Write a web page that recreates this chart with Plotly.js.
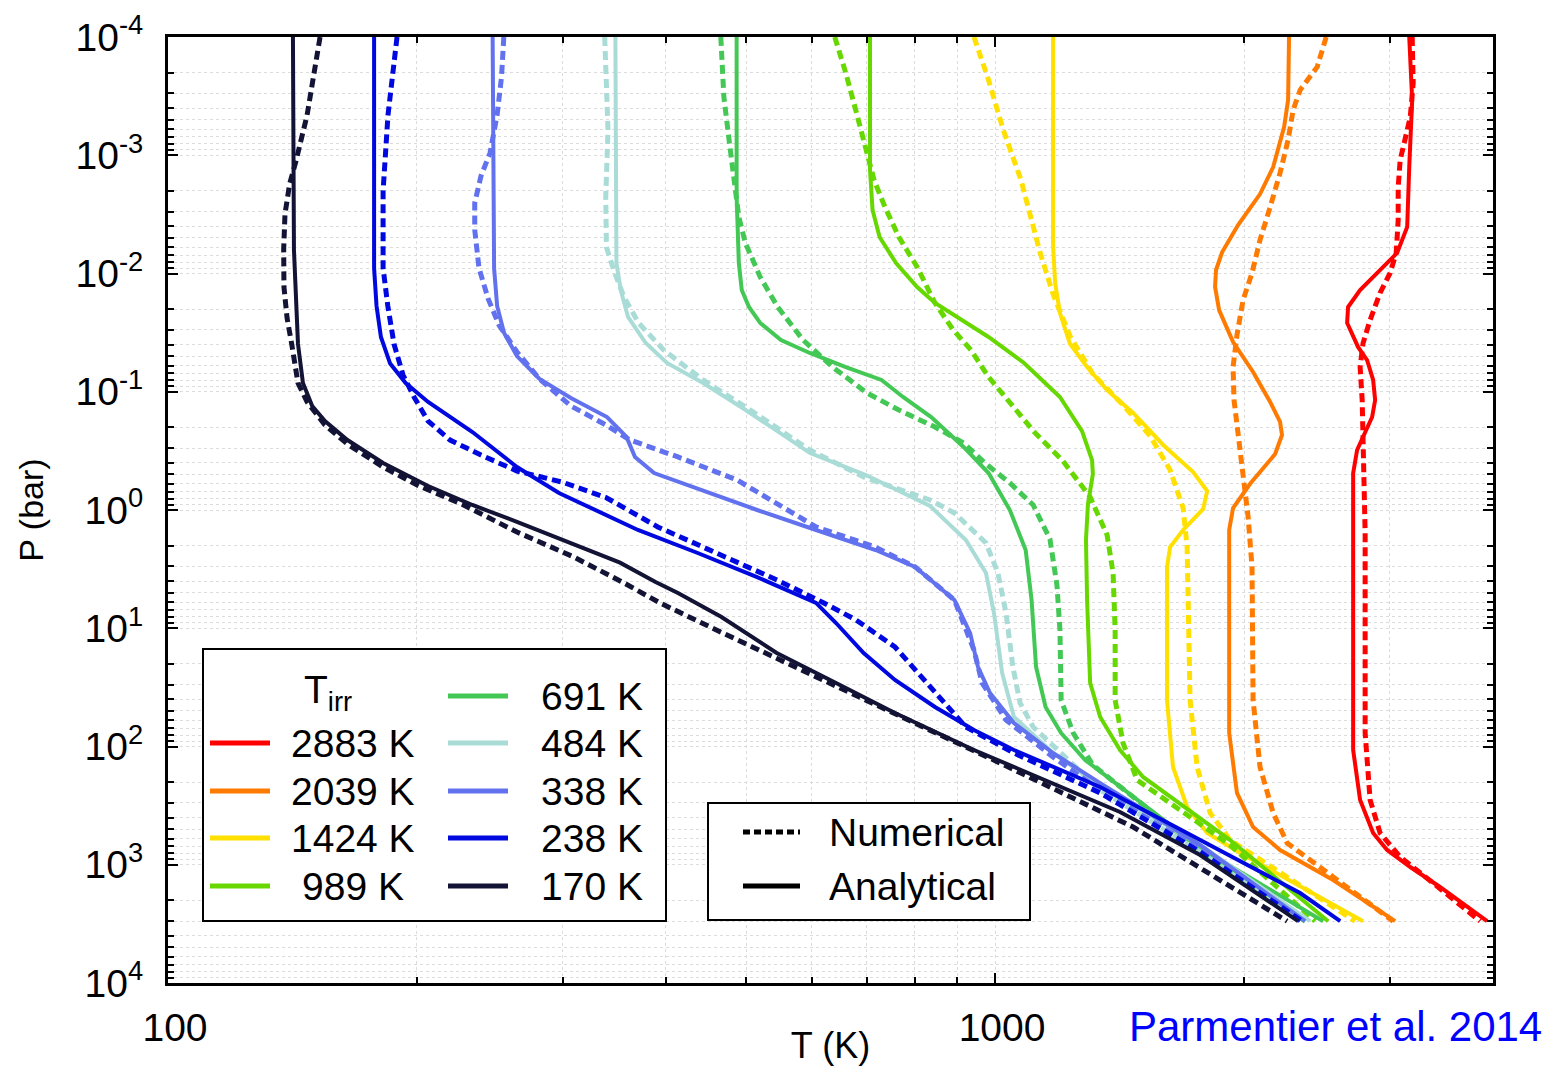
<!DOCTYPE html>
<html><head><meta charset="utf-8">
<script src="https://cdn.plot.ly/plotly-3.0.1.min.js"></script>
<style>html,body{margin:0;padding:0;background:#fff}#chart{width:1551px;height:1066px}</style>
</head><body><div id="chart"></div>
<script>
// Irradiation temperatures (legend)
const tirrLabels = ['2883 K','2039 K','1424 K','989 K','691 K','484 K','338 K','238 K','170 K'];
const tirrColors = ['#ff0000','#ff7a00','#ffe000','#66d800','#44c855','#a9dcd6','#6272ee','#0008e0','#131335'];

// ---- 2883 K ----
const P_2883_ana = [1e-4,3.41e-4,1.26e-3,4.04e-3,6.71e-3,8.81e-3,0.0138,0.0192,0.0262,0.0418,0.0539,0.0795,0.1175,0.1635,0.241,0.311,0.487,107,283,539,750,1045,1542,3000];
const T_2883_ana = [3168,3194,3168,3150,3063,2946,2763,2672,2665,2747,2817,2865,2881,2857,2786,2740,2710,2710,2763,2865,2979,3177,3451,3935];
const P_2883_num = [1e-4,2.45e-4,4.75e-4,7.43e-4,1.1e-3,1.86e-3,3.53e-3,6.71e-3,9.9e-3,0.0146,0.0247,0.0387,0.0618,0.1175,0.433,1.565,76.9,283,539,860,1426,3000];
const T_2883_num = [3194,3203,3177,3133,3089,3072,3072,3055,3004,2921,2841,2786,2763,2779,2794,2802,2802,2841,2921,3089,3385,3859];
// ---- 2039 K ----
const P_2039_ana = [1e-4,3.41e-4,5.77e-4,1.26e-3,2.13e-3,3.89e-3,6.58e-3,9.34e-3,0.013,0.0204,0.038,0.068,0.122,0.180,0.232,0.336,0.603,0.962,1.476,76.9,247,480,750,1345,3000];
const T_2039_ana = [2267,2261,2236,2169,2091,1967,1882,1850,1845,1866,1940,2051,2151,2211,2223,2181,2033,1940,1919,1919,1961,2051,2211,2563,3046];
const P_2039_num = [1e-4,1.79e-4,2.81e-4,4.14e-4,7.43e-4,1.41e-3,2.74e-3,5.21e-3,9.9e-3,0.0167,0.0331,0.0618,0.1174,0.223,0.487,1.146,3.03,40.5,149,365,655,1270,3000];
const T_2039_num = [2514,2452,2338,2293,2261,2211,2151,2091,2045,1995,1961,1940,1945,1967,1995,2023,2045,2051,2091,2169,2255,2563,3029];
// ---- 1424 K ----
const P_1424_ana = [1e-4,5.63e-3,0.012,0.0216,0.0394,0.0618,0.0966,0.151,0.282,0.477,0.691,0.98,1.476,2.06,3.03,40.5,149,325,539,795,3000];
const T_1424_ana = [1175,1175,1182,1198,1232,1292,1366,1469,1597,1736,1805,1785,1688,1628,1614,1614,1641,1707,1805,1979,2786];
const P_1424_num = [1e-4,2.31e-4,6.1e-4,1.62e-3,6.58e-3,0.0149,0.0338,0.0708,0.1294,0.2366,0.459,0.962,2.06,10.35,40.5,149,365,618,3000];
const T_1424_num = [943,982,1023,1075,1133,1175,1232,1313,1428,1540,1628,1688,1707,1712,1721,1755,1820,1924,2725];
// ---- 989 K ----
const P_989_ana = [1e-4,1.33e-3,2.9e-3,4.91e-3,8.15e-3,0.013,0.01776,0.0344,0.0571,0.1107,0.215,0.378,0.496,0.90,1.794,5.77,29.0,56.3,107,181,618,3000];
const T_989_ana = [706,706,711,725,759,805,846,982,1084,1198,1274,1310,1313,1295,1288,1292,1303,1340,1416,1510,1924,2528];
const P_989_num = [1e-4,2.02e-4,4.4e-4,9.58e-4,1.62e-3,2.74e-3,4.91e-3,8.81e-3,0.01776,0.03,0.0443,0.075,0.1245,0.223,0.385,0.776,1.627,3.41,10.35,40.5,93.4,192,681,3000];
const T_989_num = [640,660,680,700,714,736,765,805,846,890,935,982,1042,1118,1208,1303,1366,1389,1397,1397,1428,1485,1924,2438];
// ---- 691 K ----
const P_691_ana = [1e-4,2.25e-3,8.15e-3,0.0138,0.0192,0.0262,0.0365,0.047,0.0618,0.0795,0.1107,0.1635,0.293,0.487,1.0,2.18,5.77,21.3,46.3,76.9,130,721,3000];
const T_691_ana = [487,487,490,494,504,520,551,597,660,729,774,837,916,982,1042,1089,1107,1121,1151,1202,1285,1770,2493];
const P_691_num = [1e-4,3.22e-4,8.5e-4,1.86e-3,3.33e-3,5.52e-3,0.0107,0.0192,0.0365,0.0618,0.1024,0.1427,0.1986,0.271,0.40,0.591,0.907,1.76,4.31,10.35,40.5,76.9,143.6,750,3000];
const T_691_num = [466,470,478,485,490,499,520,546,586,636,700,765,846,916,972,1042,1112,1165,1188,1198,1202,1243,1313,1770,2371];
// ---- 484 K ----
const P_484_ana = [1e-4,8.15e-3,0.01378,0.0233,0.0387,0.0571,0.0843,0.1427,0.33,0.506,0.925,1.794,3.41,7.43,23.9,56.2,113.5,216,681,3000];
const T_484_ana = [347.5,348.5,352.7,359.9,378.1,401.2,443.6,499.4,597.4,698,834.5,922,975,997,1020,1054,1175,1340,1770,2404];
const P_484_num = [1e-4,6.1e-4,2.25e-3,5.97e-3,9.34e-3,0.0158,0.0262,0.0443,0.0794,0.1346,0.311,0.536,0.823,1.06,1.90,3.41,7.43,21.3,42.8,68.4,233,780,3000];
const T_484_num = [337.3,340.4,338.3,338.9,345.8,355.9,370.7,397.4,443.6,499.4,597.4,698,834.5,893,975,1008,1031,1051,1072,1112,1340,1770,2338];
// ---- 338 K ----
const P_338_ana = [1e-4,9.0e-3,0.0188,0.0318,0.0499,0.078,0.113,0.1635,0.241,0.356,0.487,0.678,1.0,1.476,2.18,3.03,5.77,11.0,21.3,35.3,63.3,113.5,204,681,3000];
const T_338_ana = [246.9,247.9,250,254.9,264.2,281.3,307,339.5,358.4,367,387,440,515.6,607.5,717,800.5,893,933,953.7,986,1054,1175,1340,1770,2371];
const P_338_num = [1e-4,2.16e-4,4.57e-4,9.58e-4,1.5e-3,2.53e-3,4.28e-3,9.0e-3,0.0163,0.0273,0.0461,0.078,0.132,0.191,0.256,0.356,0.557,1.39,2.06,3.03,5.77,15.3,29.0,59.7,122.8,233,750,3000];
const T_338_num = [254.7,253.1,250,245.1,239,234.9,234.9,237.7,243.8,251.3,264.2,281.3,307,338.5,361.9,413.6,487.5,607.5,717,800.5,893,943,964.5,1031,1175,1340,1770,2338];
// ---- 238 K ----
const P_238_ana = [1e-4,9.0e-3,0.0188,0.0344,0.0578,0.0843,0.122,0.219,0.433,0.718,1.476,2.31,3.69,6.11,9.03,16.2,27.4,46.3,72.5,107,220,618,1734,3000];
const T_238_ana = [177.5,177.5,178.7,180.9,185.6,193.8,206.3,233.4,264.2,297,370,437,515.6,607.5,642.3,693.6,756.8,846,943,1054,1340,1770,2338,2614];
const P_238_num = [1e-4,4.57e-4,2.0e-3,9.0e-3,0.0188,0.0394,0.0722,0.113,0.177,0.256,0.343,0.468,0.58,0.784,1.39,2.31,3.91,6.11,8.51,14.4,35.3,68.4,113.5,247,780,3000];
const T_238_num = [189.2,184.5,182,182,184.4,187.6,192.4,198.7,206.3,219.3,239,264.2,299.5,338.5,391,461,545,621,679,756.8,846,922,1054,1340,1770,2351];
// ---- 170 K ----
const P_170_ana = [1e-4,6.3e-3,0.0394,0.0843,0.132,0.177,0.256,0.40,0.627,0.907,1.26,1.90,2.79,4.06,5.04,7.99,16.2,29.0,52.1,107,204,358,827,3000];
const T_170_ana = [141.6,142,143.6,145.6,149.4,154.8,164.8,182,206.3,233.4,264.2,307,352,388.6,413.6,466.4,544.5,642.3,756.8,943,1175,1416,1770,2325];
const P_170_num = [1e-4,4.57e-4,1.12e-3,1.75e-3,3.14e-3,6.2e-3,0.013,0.0238,0.0394,0.0843,0.122,0.191,0.277,0.433,0.627,0.907,1.535,2.50,4.14,6.11,10.7,25.8,52.1,138,480,3000];
const T_170_num = [152.7,147.3,142.8,140.3,138.5,138.0,138.1,139.3,141.1,143.6,147.3,154.8,164.8,182,201.2,227.7,264.2,309.6,355.9,393.5,465,607.5,756.8,1014,1469,2255];

// Axis ticks
const xMajor = [100,1000];
const xMajorText = ['100','1000'];
const xMinor = [200,300,400,500,600,700,800,900,2000,3000];
const yMajor = [1e-4,1e-3,1e-2,1e-1,1e0,1e1,1e2,1e3,1e4];
const yMajorText = ['10<sup>-4</sup>','10<sup>-3</sup>','10<sup>-2</sup>','10<sup>-1</sup>','10<sup>0</sup>','10<sup>1</sup>','10<sup>2</sup>','10<sup>3</sup>','10<sup>4</sup>'];
const yMinorMant = [2,3,4,5,6,7,8,9];

const series = [
  [T_2883_num,P_2883_num,T_2883_ana,P_2883_ana],
  [T_2039_num,P_2039_num,T_2039_ana,P_2039_ana],
  [T_1424_num,P_1424_num,T_1424_ana,P_1424_ana],
  [T_989_num,P_989_num,T_989_ana,P_989_ana],
  [T_691_num,P_691_num,T_691_ana,P_691_ana],
  [T_484_num,P_484_num,T_484_ana,P_484_ana],
  [T_338_num,P_338_num,T_338_ana,P_338_ana],
  [T_238_num,P_238_num,T_238_ana,P_238_ana],
  [T_170_num,P_170_num,T_170_ana,P_170_ana]
];

const traces = [];
series.forEach((s,i)=>{
  traces.push({x:s[0],y:s[1],mode:'lines',name:tirrLabels[i]+' numerical',showlegend:false,
    line:{color:tirrColors[i],width:5,dash:'9px,5px'},hoverinfo:'skip'});
  traces.push({x:s[2],y:s[3],mode:'lines',name:tirrLabels[i]+' analytical',showlegend:false,
    line:{color:tirrColors[i],width:4},hoverinfo:'skip'});
});

const yMinor = [];
for (let e=-4;e<4;e++) yMinorMant.forEach(m=>yMinor.push(m*Math.pow(10,e)));

// pixel -> paper helpers (plot area 168..1493 x 37..983)
const L=168,R=1493,T0=37,B=983;
const px = x => (x-L)/(R-L);
const py = y => (B-y)/(B-T0);

const FONT = 'Liberation Sans, Arial, Helvetica, sans-serif';
const FS = 39;
const shapes = [];
const ann = [];
// legend 1 box
shapes.push({type:'rect',xref:'paper',yref:'paper',x0:px(203),x1:px(666),y0:py(649),y1:py(921),line:{color:'#000',width:2},fillcolor:'#fff',layer:'above'});
const rowsY = [743,791,838,886];
const col1Right = [417,417,417,406];
const col1 = [0,1,2,3], col2 = [4,5,6,7,8];
const col2Y = [696,743,791,838,886];
col1.forEach((k,j)=>{
  shapes.push({type:'line',xref:'paper',yref:'paper',x0:px(210),x1:px(270),y0:py(rowsY[j]),y1:py(rowsY[j]),line:{color:tirrColors[k],width:5},layer:'above'});
  ann.push({xref:'paper',yref:'paper',x:px(col1Right[j]),y:py(rowsY[j]),xanchor:'right',yanchor:'middle',text:tirrLabels[k],showarrow:false,font:{family:FONT,size:FS,color:'#000'}});
});
col2.forEach((k,j)=>{
  shapes.push({type:'line',xref:'paper',yref:'paper',x0:px(448),x1:px(508),y0:py(col2Y[j]),y1:py(col2Y[j]),line:{color:tirrColors[k],width:5},layer:'above'});
  ann.push({xref:'paper',yref:'paper',x:px(645),y:py(col2Y[j]),xanchor:'right',yanchor:'middle',text:tirrLabels[k],showarrow:false,font:{family:FONT,size:FS,color:'#000'}});
});
ann.push({xref:'paper',yref:'paper',x:px(328),y:py(692),xanchor:'center',yanchor:'middle',text:'T<sub>irr</sub>',showarrow:false,font:{family:FONT,size:FS,color:'#000'}});
// legend 2 box
shapes.push({type:'rect',xref:'paper',yref:'paper',x0:px(708),x1:px(1030),y0:py(803),y1:py(920),line:{color:'#000',width:2},fillcolor:'#fff',layer:'above'});
shapes.push({type:'line',xref:'paper',yref:'paper',x0:px(743),x1:px(800),y0:py(832),y1:py(832),line:{color:'#000',width:5,dash:'7px,4px'},layer:'above'});
shapes.push({type:'line',xref:'paper',yref:'paper',x0:px(743),x1:px(800),y0:py(886),y1:py(886),line:{color:'#000',width:5},layer:'above'});
ann.push({xref:'paper',yref:'paper',x:px(827),y:py(832),xanchor:'left',yanchor:'middle',text:'Numerical',showarrow:false,font:{family:FONT,size:FS,color:'#000'}});
ann.push({xref:'paper',yref:'paper',x:px(827),y:py(886),xanchor:'left',yanchor:'middle',text:'Analytical',showarrow:false,font:{family:FONT,size:FS,color:'#000'}});
// credit
ann.push({xref:'paper',yref:'paper',x:px(1544),y:py(1026),xanchor:'right',yanchor:'middle',text:'Parmentier et al. 2014',showarrow:false,font:{family:FONT,size:42,color:'#0000ff'}});

const gridStyle = {showgrid:true,griddash:'dot',gridcolor:'#dcdcdc',gridwidth:1};
const layout = {
  width:1551,height:1066,
  margin:{l:L,r:1551-R,t:T0,b:1066-B,pad:0},
  paper_bgcolor:'#fff',plot_bgcolor:'#fff',
  showlegend:false,
  font:{family:FONT,color:'#000'},
  xaxis:{type:'log',range:[2,Math.log10(4000)],tickmode:'array',tickvals:xMajor,ticktext:xMajorText,
    ticks:'inside',ticklen:10,tickwidth:2,tickcolor:'#000',
    showline:true,linecolor:'#000',linewidth:3,mirror:'allticks',zeroline:false,
    showgrid:true,griddash:'dot',gridcolor:'#dcdcdc',gridwidth:1,
    ticklabelstandoff:8,ticklabelshift:7,
    tickfont:{family:FONT,size:FS,color:'#000'},
    minor:Object.assign({tickmode:'array',tickvals:xMinor,ticks:'inside',ticklen:6,tickwidth:2,tickcolor:'#000'},gridStyle),
    title:{text:'T (K)',font:{family:FONT,size:36,color:'#000'},standoff:12}},
  yaxis:{type:'log',range:[4,-4],tickmode:'array',tickvals:yMajor,ticktext:yMajorText,
    ticks:'inside',ticklen:10,tickwidth:2,tickcolor:'#000',
    showline:true,linecolor:'#000',linewidth:3,mirror:'allticks',zeroline:false,
    showgrid:true,griddash:'dot',gridcolor:'#dcdcdc',gridwidth:1,
    ticklabelstandoff:14,
    tickfont:{family:FONT,size:FS,color:'#000'},
    minor:Object.assign({tickmode:'array',tickvals:yMinor,ticks:'inside',ticklen:6,tickwidth:2,tickcolor:'#000'},gridStyle),
    title:{text:'P (bar)',font:{family:FONT,size:34,color:'#000'},standoff:22}},
  shapes:shapes,
  annotations:ann
};
Plotly.newPlot('chart',traces,layout,{displayModeBar:false,staticPlot:true});
</script></body></html>
